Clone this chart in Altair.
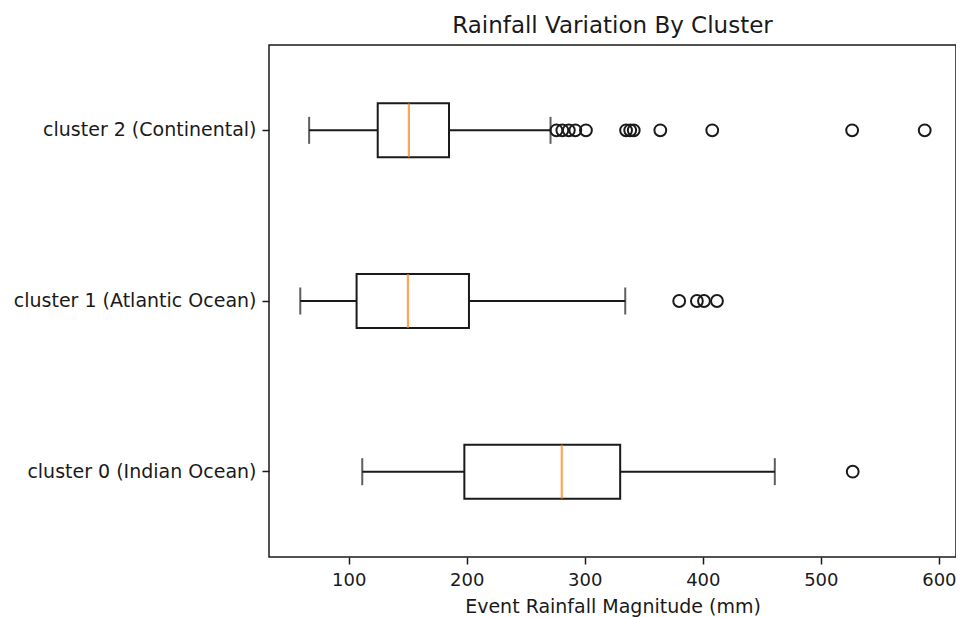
import altair as alt
import pandas as pd

clusters = ["cluster 2 (Continental)", "cluster 1 (Atlantic Ocean)", "cluster 0 (Indian Ocean)"]
whisker_low = [66.5, 59, 111.5]
q1 = [124.6, 106.7, 198]
median = [151, 150.2, 280.5]
q3 = [185, 201.9, 330]
whisker_high = [271, 334.3, 461]
outliers_c2 = [276, 281, 286.5, 292, 301, 335, 338.5, 341.5, 364, 408, 526.5, 588]
outliers_c1 = [380, 395, 401, 412]
outliers_c0 = [527]

box_df = pd.DataFrame({
    "cluster": clusters,
    "lo": whisker_low,
    "q1": q1,
    "med": median,
    "q3": q3,
    "hi": whisker_high,
})
out_rows = []
for c, vals in zip(clusters, [outliers_c2, outliers_c1, outliers_c0]):
    for v in vals:
        out_rows.append({"cluster": c, "v": v})
out_df = pd.DataFrame(out_rows)

FONT = "DejaVu Sans"
INK = "#1a1a1a"
xscale = alt.Scale(domain=[32.5, 614.5], nice=False, zero=False)
yscale = alt.Scale(domain=clusters, paddingInner=0, paddingOuter=0)

xenc = alt.X("lo:Q", scale=xscale,
             axis=alt.Axis(title="Event Rainfall Magnitude (mm)", values=[100, 200, 300, 400, 500, 600],
                           grid=False, domain=False, tickColor=INK, tickSize=7, tickWidth=1.5,
                           labelColor=INK, labelFontSize=18, labelFont=FONT, labelPadding=7,
                           titleFont=FONT, titleFontSize=19, titleFontWeight="normal",
                           titleColor=INK, titlePadding=8))
yenc = alt.Y("cluster:N", scale=yscale, sort=clusters,
             axis=alt.Axis(title=None, grid=False, domain=False, tickColor=INK, tickSize=7,
                           tickWidth=1.5, labelColor=INK, labelFontSize=19, labelFont=FONT,
                           labelPadding=6, labelLimit=400))

base = alt.Chart(box_df)
LW = 2

whisk_lo = base.mark_rule(color=INK, strokeWidth=LW).encode(x=xenc, x2="q1:Q", y=yenc)
whisk_hi = base.mark_rule(color=INK, strokeWidth=LW).encode(x="q3:Q", x2="hi:Q", y="cluster:N")
box = base.mark_bar(size=54, fill="white", stroke=INK, strokeWidth=LW).encode(
    x="q1:Q", x2="q3:Q", y="cluster:N")
med = base.mark_tick(color="#ff7f0e", size=54, thickness=2.2).encode(x="med:Q", y="cluster:N")
cap_lo = base.mark_tick(color=INK, size=27, thickness=LW).encode(x="lo:Q", y="cluster:N")
cap_hi = base.mark_tick(color=INK, size=27, thickness=LW).encode(x="hi:Q", y="cluster:N")
pts = alt.Chart(out_df).mark_point(shape="circle", filled=False, color=INK, size=140,
                                   strokeWidth=LW, opacity=1).encode(x="v:Q", y="cluster:N")

chart = alt.layer(whisk_lo, whisk_hi, box, med, cap_lo, cap_hi, pts).properties(
    width=687, height=512,
    background="white",
    title=alt.TitleParams("Rainfall Variation By Cluster", font=FONT, fontSize=23,
                          fontWeight="normal", color=INK, anchor="middle", offset=7),
    autosize=alt.AutoSizeParams(type="none"),
    padding={"left": 261, "top": 37, "right": 0, "bottom": 60},
).configure_view(stroke=INK, strokeWidth=1.5)

chart.save("out.html", embed_options={"renderer": "svg", "actions": False})
